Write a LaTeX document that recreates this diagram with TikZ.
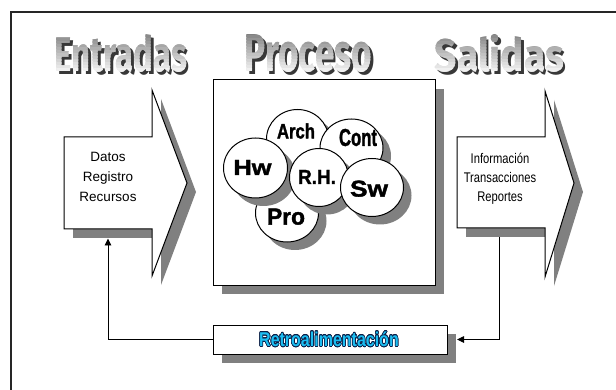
\documentclass[tikz,border=0pt]{standalone}
\usepackage{fontspec}
\setmainfont{Liberation Sans}
\newfontfamily\hdrfont{Fira Sans}
\newfontfamily\narrowfont{Liberation Sans}[FakeStretch=0.8]
\newfontfamily\heavyfont{Liberation Sans Bold}[FakeBold=1.6]
\usepackage{graphicx}
\usepackage{contour}
\contourlength{0.7pt}
\contournumber{16}
\usetikzlibrary{arrows.meta}
\definecolor{shadowgray}{RGB}{128,128,128}
\definecolor{retrocyan}{RGB}{28,190,242}
\definecolor{retronavy}{RGB}{10,30,70}

\tikzset{
  outline/.style={draw=black, line width=1pt, fill=white},
  shade box/.style={fill=shadowgray, draw=none},
  hdr/.style={anchor=base, inner sep=0pt, font=\hdrfont\bfseries},
  bubbletext/.style={inner sep=0pt, font=\heavyfont},
  feedback/.style={draw=black, line width=0.9pt, -{Triangle[length=7pt,width=6.5pt]}},
}

% large heading with a grey-to-white vertical gradient and a dark drop shadow
\newcommand\headword[4]{%
  \node[hdr, text=black!78] (#1-shadow) at (#2+2.5,74.5) {\resizebox{#3pt}{37pt}{#4}};
  \foreach \i in {0,...,13}{%
    \pgfmathtruncatemacro\g{50-47*\i/13}
    \begin{scope}
      \clip (#2-90,33+3*\i) rectangle (#2+90,36.4+3*\i);
      \node[hdr, text=black!\g] (#1-\i) at (#2,72) {\resizebox{#3pt}{37pt}{#4}};
    \end{scope}
  }%
}

% white ellipse with a grey shadow
\newcommand\bubble[4]{%
  \fill[shade box] (#1+8,#2+8) ellipse [x radius=#3, y radius=#4];
  \draw[outline] (#1,#2) ellipse [x radius=#3, y radius=#4];
}

\begin{document}
\begin{tikzpicture}[x=1pt, y=-1pt]
  \useasboundingbox (0,0) rectangle (616,390);
  \fill[white] (0,0) rectangle (616,390);

  % outer frame (top and left edges)
  \draw[line width=1.2pt, black!85] (11,392) -- (11,12) -- (618,12);

  % headings
  \headword{hdrIn}{121}{132}{Entradas}
  \headword{hdrProc}{308.5}{127}{Proceso}
  \headword{hdrOut}{499.5}{129}{Salidas}

  % input arrow
  \fill[shade box] (73,146) -- (161,146) -- (161,99) -- (196,192) -- (161,285)
        -- (161,238) -- (73,238) -- cycle;
  \draw[outline] (64,137) -- (152,137) -- (152,90) -- (187,183) -- (152,276)
        -- (152,229) -- (64,229) -- cycle;
  \coordinate (inBottom) at (108,238.5);
  \node[align=center, inner sep=0pt, font=\fontsize{13.5}{20}\selectfont] (inText)
        at (108,177) {Datos\\Registro\\Recursos};

  % output arrow
  \fill[shade box] (466,146) -- (554,146) -- (554,100) -- (583,192) -- (554,286)
        -- (554,237) -- (466,237) -- cycle;
  \draw[outline] (457,137) -- (545,137) -- (545,91) -- (574,183) -- (545,277)
        -- (545,228) -- (457,228) -- cycle;
  \coordinate (outBottom) at (499,237.5);
  \node[align=center, inner sep=0pt, font=\narrowfont\fontsize{14}{19}\selectfont] (outText)
        at (500,179) {Información\\Transacciones\\Reportes};

  % process box
  \fill[shade box] (222,89) rectangle (444,294);
  \node[outline, minimum width=222, minimum height=205, inner sep=0pt] (proc) at (324,182.5) {};

  % overlapping resource bubbles, back to front
  \bubble{287}{213}{31.5}{29}
  \bubble{297.5}{139}{31}{29.5}
  \bubble{351.5}{148}{31.5}{29}
  \bubble{255.5}{168}{32}{30}
  \bubble{319}{177.5}{29.5}{29}
  \bubble{372}{187.5}{31.5}{29}
  \node[bubbletext] (bPro)  at (286,216.7)   {\resizebox{38pt}{16pt}{Pro}};
  \node[bubbletext] (bArch) at (296,131)     {\resizebox{38pt}{15pt}{Arch}};
  \node[bubbletext] (bCont) at (358,137.5)   {\resizebox{38pt}{17pt}{Cont}};
  \node[bubbletext] (bHw)   at (252.5,167.5) {\resizebox{38pt}{15pt}{Hw}};
  \node[bubbletext] (bRH)   at (317,177)     {\resizebox{38pt}{14pt}{R.H.}};
  \node[bubbletext] (bSw)   at (369,188.7)   {\resizebox{38pt}{16pt}{Sw}};

  % feedback box
  \fill[shade box] (222,334) rectangle (456,363);
  \node[outline, minimum width=234, minimum height=29, inner sep=0pt] (retro) at (330,339.5) {};
  \node[inner sep=0pt, text=retrocyan, font=\bfseries\fontsize{20}{20}\selectfont] (retroText)
        at (329,339.5) {\scalebox{0.8}[1]{\contour{retronavy}{Retroalimentación}}};
  \coordinate (retroIn) at (457,339.5);

  % feedback connectors
  \draw[feedback] (outBottom) |- (retroIn);
  \draw[feedback] (retro.west) -| (inBottom);
\end{tikzpicture}
\end{document}
